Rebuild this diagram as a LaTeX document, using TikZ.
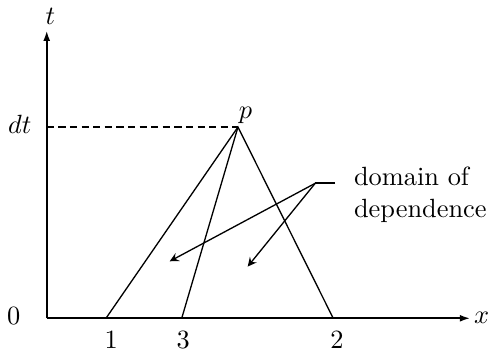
\documentclass[tikz,border=0pt]{standalone}
\usepackage{amsmath,amssymb}
\usepackage{tikz}
\usetikzlibrary{arrows, arrows.meta, positioning}

\begin{document}
\begin{tikzpicture}[
    axis/.style={line width=0.9pt,-{Latex[length=4pt,width=2.6pt]}},
    ray/.style={line width=0.5pt},
    guide/.style={line width=0.5pt, dash pattern=on 2.8pt off 1.6pt},
    pointer/.style={line width=0.5pt,->,>=stealth},
    tick/.style={inner sep=0pt}
]
\useasboundingbox (-0.623,-0.423) rectangle (5.897,4.244);

% Points
\coordinate (O) at (0,0);
\coordinate (ttop) at (0,3.84);
\coordinate (xend) at (5.65,0);
\coordinate (apex) at (2.55,2.55);
\coordinate (dtaxis) at (0,2.55);
\coordinate (b1) at (0.79,0);
\coordinate (b3) at (1.80,0);
\coordinate (b2) at (3.82,0);
\coordinate (knee) at (3.58,1.80);
\coordinate (tipA) at (1.64,0.76);
\coordinate (tipB) at (2.68,0.69);

% Labels
\node [tick] (tlab) at (0.05,4.02) {$t$};
\node [tick] (xlab) at (5.80,0) {$x$};
\node [tick] (zero) at (-0.44,0.03) {$0$};
\node [tick] (dt) at (-0.36,2.58) {$dt$};
\node [tick] (plab) at (2.65,2.71) {$p$};
\node [tick] (lab1) at (0.86,-0.29) {$1$};
\node [tick] (lab3) at (1.82,-0.29) {$3$};
\node [tick] (lab2) at (3.87,-0.29) {$2$};
\node [anchor=north west, align=left, inner xsep=7pt] (dom) at (3.845,2.14) {domain of \\ dependence};

% Axes
\draw [axis] (O) -- (ttop);
\draw [axis] (O) -- (xend);
\draw [guide] (dtaxis) -- (apex);

% Characteristics
\draw [ray] (b1) -- (apex) -- (b2);
\draw [ray] (b3) -- (apex);

% Pointer
\draw [thick] (dom.west |- knee) -- (knee);
\draw [pointer] (knee) -- (tipA);
\draw [pointer] (knee) -- (tipB);

\end{tikzpicture}
\end{document}
